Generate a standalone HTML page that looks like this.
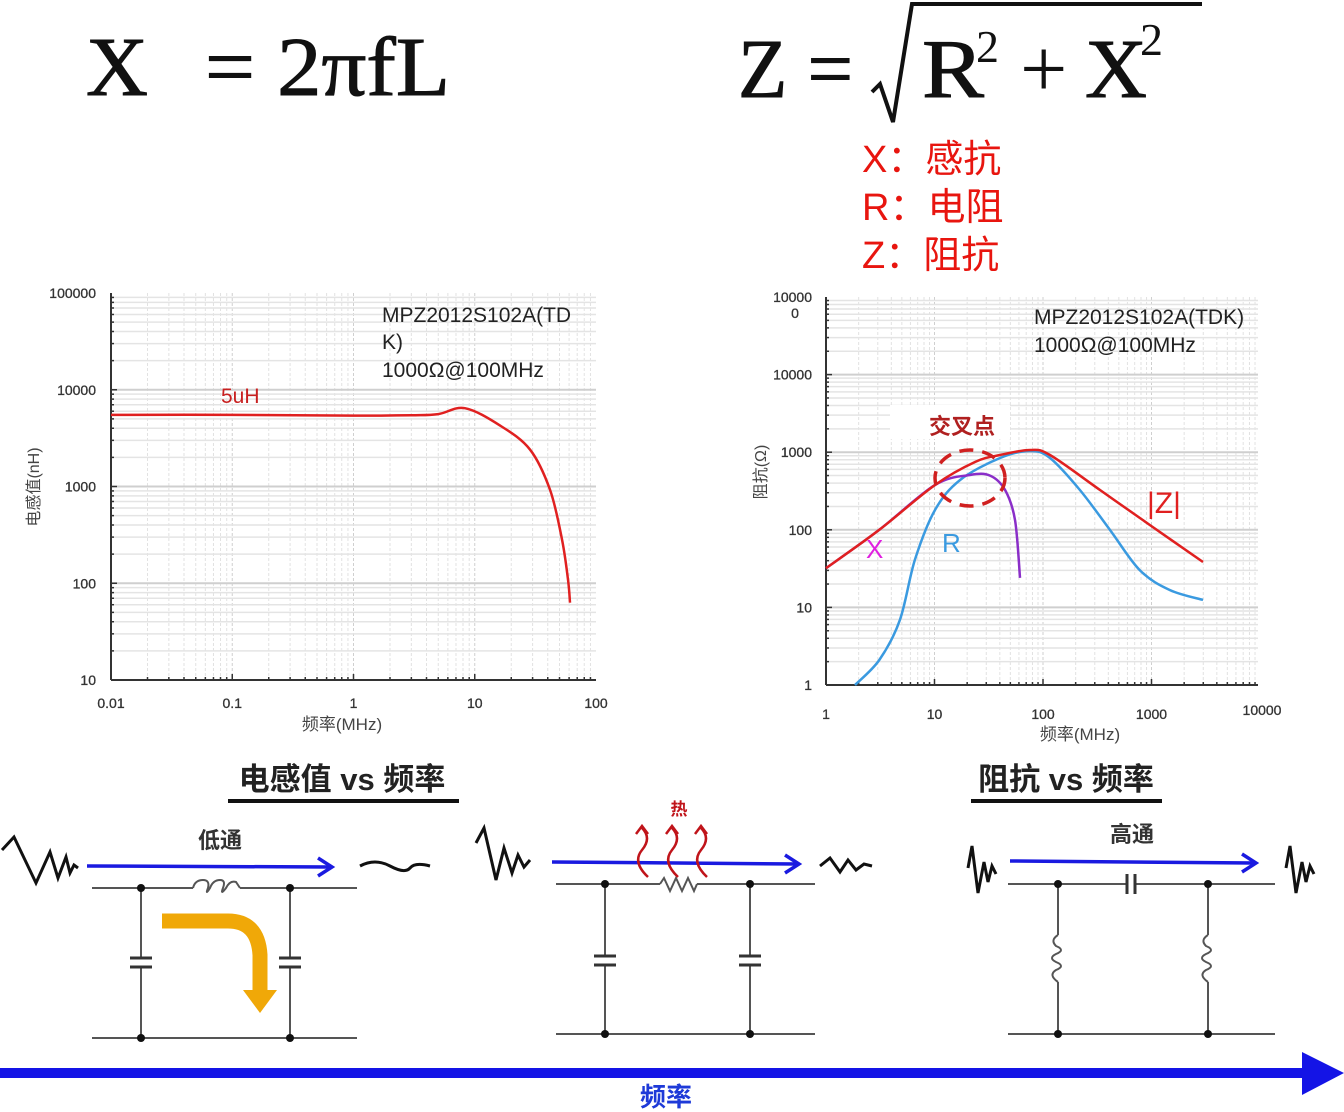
<!DOCTYPE html>
<html><head><meta charset="utf-8">
<style>
html,body{margin:0;padding:0;background:#fff;}
svg{display:block;}
text{font-family:"Liberation Sans","Noto Sans CJK SC",sans-serif;}
.serif{font-family:"Liberation Serif","Noto Serif CJK SC",serif;}
</style></head>
<body>
<svg id="root" width="1344" height="1112" viewBox="0 0 1344 1112" xmlns="http://www.w3.org/2000/svg">
  <g>
    <text class="serif" x="86" y="95" font-size="84" textLength="62" lengthAdjust="spacingAndGlyphs" fill="#111" stroke="#111" stroke-width="1">X</text>
    <text class="serif" x="205" y="95" font-size="84" textLength="245" lengthAdjust="spacingAndGlyphs" fill="#111" stroke="#111" stroke-width="1">= 2πfL</text>
  </g>
  <g>
    <text class="serif" x="738" y="97" font-size="84" textLength="115" lengthAdjust="spacingAndGlyphs" fill="#111" stroke="#111" stroke-width="1">Z =</text>
    <path d="M872 92 L880 84 L893 122 L912 4 L1202 4" stroke="#111" stroke-width="4" fill="none"/>
    <text class="serif" x="922" y="97" font-size="84" textLength="62" lengthAdjust="spacingAndGlyphs" fill="#111" stroke="#111" stroke-width="1">R</text>
    <text class="serif" x="976" y="62" font-size="46" fill="#111">2</text>
    <text class="serif" x="1020" y="97" font-size="84" fill="#111">+</text>
    <text class="serif" x="1085" y="97" font-size="84" textLength="62" lengthAdjust="spacingAndGlyphs" fill="#111" stroke="#111" stroke-width="1">X</text>
    <text class="serif" x="1140" y="55" font-size="46" fill="#111">2</text>
  </g>
  <g fill="#e8150f" font-size="38">
    <text x="862" y="172">X：感抗</text>
    <text x="862" y="220">R：电阻</text>
    <text x="862" y="268">Z：阻抗</text>
  </g>

  <g id="chartL"></g>
  <g id="chartR"></g>

  <g>
    <text x="342" y="790" text-anchor="middle" font-size="31" font-weight="bold" fill="#222">电感值 vs 频率</text>
    <rect x="228" y="799" width="231" height="4" fill="#111"/>
  </g>
  <g>
    <text x="1066" y="790" text-anchor="middle" font-size="31" font-weight="bold" fill="#222">阻抗 vs 频率</text>
    <rect x="971" y="799" width="191" height="4" fill="#111"/>
  </g>

  <g stroke="#555" stroke-width="2" fill="none">
    <path d="M2 850 L14 837 L36 883 L50 852 L58 878 L66 857 L70 873 L74 865 L78 868" stroke="#111" stroke-width="3"/>
    <path d="M360 866 Q375 858 390 866 T410 868 T430 866" stroke="#111" stroke-width="3"/>
    <line x1="92" y1="888" x2="193" y2="888"/><line x1="240" y1="888" x2="357" y2="888"/>
    <path d="M193 888 Q195 880 203 880 Q210 880 208 888 Q205 896 210 888 Q213 880 220 880 Q226 880 223 888 Q220 896 226 888 Q230 880 236 882 L240 888"/>
    <line x1="92" y1="1038" x2="357" y2="1038"/>
    <line x1="141" y1="888" x2="141" y2="958"/><line x1="141" y1="967" x2="141" y2="1038"/>
    <line x1="130" y1="958" x2="152" y2="958" stroke-width="3" stroke="#333"/><line x1="130" y1="967" x2="152" y2="967" stroke-width="3" stroke="#333"/>
    <line x1="290" y1="888" x2="290" y2="958"/><line x1="290" y1="967" x2="290" y2="1038"/>
    <line x1="279" y1="958" x2="301" y2="958" stroke-width="3" stroke="#333"/><line x1="279" y1="967" x2="301" y2="967" stroke-width="3" stroke="#333"/>
    <g fill="#111" stroke="none"><circle cx="141" cy="888" r="4"/><circle cx="290" cy="888" r="4"/><circle cx="141" cy="1038" r="4"/><circle cx="290" cy="1038" r="4"/></g>
    <line x1="87" y1="866" x2="330" y2="867" stroke="#1a1ae0" stroke-width="3.5"/>
    <path d="M318 858 L332 867 L318 876" stroke="#1a1ae0" stroke-width="3.5"/>
    <path d="M162 921 L228 921 Q258 921 260 955 L260 992" stroke="#f0a808" stroke-width="15"/>
    <path d="M243 990 L277 990 L260 1013 Z" fill="#f0a808" stroke="none"/>
  </g>
  <text x="220" y="848" text-anchor="middle" font-size="22" font-weight="bold" fill="#333">低通</text>

  <g stroke="#555" stroke-width="2" fill="none">
    <path d="M476 843 L484 828 L496 880 L504 848 L512 873 L518 855 L524 867 L530 860" stroke="#111" stroke-width="3"/>
    <path d="M820 866 L830 858 L840 872 L848 860 L856 870 L864 864 L872 866" stroke="#111" stroke-width="3"/>
    <line x1="556" y1="884" x2="660" y2="884"/><line x1="697" y1="884" x2="815" y2="884"/>
    <path d="M660 884 L664 878 L670 891 L676 878 L682 891 L688 878 L694 891 L697 884"/>
    <line x1="556" y1="1034" x2="815" y2="1034"/>
    <line x1="605" y1="884" x2="605" y2="956"/><line x1="605" y1="965" x2="605" y2="1034"/>
    <line x1="594" y1="956" x2="616" y2="956" stroke-width="3" stroke="#333"/><line x1="594" y1="965" x2="616" y2="965" stroke-width="3" stroke="#333"/>
    <line x1="750" y1="884" x2="750" y2="956"/><line x1="750" y1="965" x2="750" y2="1034"/>
    <line x1="739" y1="956" x2="761" y2="956" stroke-width="3" stroke="#333"/><line x1="739" y1="965" x2="761" y2="965" stroke-width="3" stroke="#333"/>
    <g fill="#111" stroke="none"><circle cx="605" cy="884" r="4"/><circle cx="750" cy="884" r="4"/><circle cx="605" cy="1034" r="4"/><circle cx="750" cy="1034" r="4"/></g>
    <line x1="552" y1="862" x2="797" y2="864" stroke="#1a1ae0" stroke-width="3.5"/>
    <path d="M785 855 L799 864 L785 873" stroke="#1a1ae0" stroke-width="3.5"/>
    <g stroke="#c0141a" stroke-width="2.5">
      <path d="M648 877 Q632 862 642 850 Q652 838 642 828 M636 834 L642 826 L648 834"/>
      <path d="M678 877 Q662 862 672 850 Q682 838 672 828 M666 834 L672 826 L678 834"/>
      <path d="M707 877 Q691 862 701 850 Q711 838 701 828 M695 834 L701 826 L707 834"/>
    </g>
  </g>
  <text x="679" y="815" text-anchor="middle" font-size="17" font-weight="bold" fill="#c0141a">热</text>

  <g stroke="#555" stroke-width="2" fill="none">
    <path d="M968 868 L972 846 L978 893 L984 862 L988 882 L992 866 L996 874" stroke="#111" stroke-width="3"/>
    <path d="M1286 868 L1290 846 L1296 893 L1302 862 L1306 882 L1310 866 L1314 874" stroke="#111" stroke-width="3"/>
    <line x1="1008" y1="884" x2="1127" y2="884"/><line x1="1135" y1="884" x2="1275" y2="884"/>
    <line x1="1127" y1="874" x2="1127" y2="894" stroke-width="3" stroke="#333"/><line x1="1135" y1="874" x2="1135" y2="894" stroke-width="3" stroke="#333"/>
    <line x1="1008" y1="1034" x2="1275" y2="1034"/>
    <line x1="1058" y1="884" x2="1058" y2="935"/><line x1="1058" y1="982" x2="1058" y2="1034"/>
    <path d="M1058 935 Q1050 940 1056 946 Q1066 950 1056 954 Q1048 958 1056 962 Q1066 966 1056 970 Q1048 975 1058 982"/>
    <line x1="1208" y1="884" x2="1208" y2="935"/><line x1="1208" y1="982" x2="1208" y2="1034"/>
    <path d="M1208 935 Q1200 940 1206 946 Q1216 950 1206 954 Q1198 958 1206 962 Q1216 966 1206 970 Q1198 975 1208 982"/>
    <g fill="#111" stroke="none"><circle cx="1058" cy="884" r="4"/><circle cx="1208" cy="884" r="4"/><circle cx="1058" cy="1034" r="4"/><circle cx="1208" cy="1034" r="4"/></g>
    <line x1="1010" y1="861" x2="1254" y2="863" stroke="#1a1ae0" stroke-width="3.5"/>
    <path d="M1242 854 L1256 863 L1242 872" stroke="#1a1ae0" stroke-width="3.5"/>
  </g>
  <text x="1132" y="842" text-anchor="middle" font-size="22" font-weight="bold" fill="#333">高通</text>

  <g>
    <rect x="0" y="1068" width="1305" height="10" fill="#1414e6"/>
    <path d="M1302 1052 L1344 1073 L1302 1095 Z" fill="#1414e6"/>
    <text x="666" y="1106" text-anchor="middle" font-size="26" font-weight="bold" fill="#1e3ad8">频率</text>
  </g>
</svg>
<script>
// ---- left chart data (inductance vs frequency) ----
const lFreq = [0.01, 0.1, 1, 3, 5, 8.3, 16, 28.6, 41.8, 52.5, 58.9, 61];
const lInd  = [5500, 5500, 5400, 5450, 5600, 6450, 4300, 2400, 920, 280, 107, 63];
const lXTicks = [0.01, 0.1, 1, 10, 100];
const lXTickLabels = ["0.01", "0.1", "1", "10", "100"];
const lYTicks = [10, 100, 1000, 10000, 100000];
const lYTickLabels = ["10", "100", "1000", "10000", "100000"];
// ---- right chart data (impedance vs frequency) ----
const rFreqX = [1, 3.1, 10.1, 21.2, 32.5, 44.7, 55.2, 61.4];
const rValX  = [32, 100, 378, 508, 500, 326, 134, 24];
const rFreqZ = [1, 3.1, 10.1, 23.6, 40.2, 75.9, 116, 335, 968, 2985];
const rValZ  = [32, 100, 378, 748, 920, 1067, 920, 326, 115, 38.5];
const rFreqR = [1.85, 3.1, 4.8, 6.6, 10.1, 17.2, 40.2, 75.9, 116, 219, 415, 783, 1480, 2985];
const rValR  = [1, 2.1, 6.9, 41, 180, 438, 842, 1035, 842, 326, 99, 30, 16.7, 12.5];
const rXTicks = [1, 10, 100, 1000, 10000];
const rXTickLabels = ["1", "10", "100", "1000", "10000"];
const rYTicks = [1, 10, 100, 1000, 10000, 100000];
const rYTickLabels = ["1", "10", "100", "1000", "10000", "10000\n0"];

const NS = "http://www.w3.org/2000/svg";
function mk(tag, attrs, parent){const e=document.createElementNS(NS,tag);for(const k in attrs)e.setAttribute(k,attrs[k]);parent.appendChild(e);return e;}
function logScale(d0,d1,r0,r1){const a=Math.log10(d0),b=Math.log10(d1);return v=>r0+(Math.log10(v)-a)/(b-a)*(r1-r0);}

function grid(g,x,y,xd,yd,x0,x1,y0,y1){
  for(let e=Math.log10(xd[0]);e<Math.log10(xd[1]);e++){for(let m=1;m<10;m++){const px=x(m*Math.pow(10,e));
    mk('line',{x1:px,y1:y0,x2:px,y2:y1,stroke:m==1?'#cfcfcf':'#e2e2e2','stroke-width':1,'stroke-dasharray':'3,2'},g);
    mk('line',{x1:px,y1:y1,x2:px,y2:y1-(m==1?6:3),stroke:'#333','stroke-width':1.5},g);}}
  for(let e=Math.log10(yd[0]);e<Math.log10(yd[1]);e++){for(let m=1;m<10;m++){const py=y(m*Math.pow(10,e));
    mk('line',{x1:x0,y1:py,x2:x1,y2:py,stroke:m==1?'#cfcfcf':'#e4e4e4','stroke-width':m==1?2:1.5},g);
    mk('line',{x1:x0,y1:py,x2:x0+(m==1?6:3),y2:py,stroke:'#333','stroke-width':1.5},g);}}
  mk('line',{x1:x0,y1:y0,x2:x0,y2:y1,stroke:'#333','stroke-width':2},g);
  mk('line',{x1:x0,y1:y1,x2:x1,y2:y1,stroke:'#333','stroke-width':2},g);
}
// smooth Catmull-Rom path through data points
function pathFrom(xs,ys,x,y){
  const P=xs.map((f,i)=>[x(f),y(ys[i])]);
  let d='M'+P[0][0].toFixed(1)+' '+P[0][1].toFixed(1);
  for(let i=0;i<P.length-1;i++){
    const p0=P[Math.max(0,i-1)],p1=P[i],p2=P[i+1],p3=P[Math.min(P.length-1,i+2)];
    const c1=[p1[0]+(p2[0]-p0[0])/6,p1[1]+(p2[1]-p0[1])/6];
    const c2=[p2[0]-(p3[0]-p1[0])/6,p2[1]-(p3[1]-p1[1])/6];
    d+=' C'+c1.map(v=>v.toFixed(1)).join(' ')+' '+c2.map(v=>v.toFixed(1)).join(' ')+' '+p2.map(v=>v.toFixed(1)).join(' ');
  }
  return d;
}

(function(){
  const g=document.getElementById('chartL');
  const x=logScale(0.01,100,111,596), y=logScale(10,100000,680,293);
  grid(g,x,y,[0.01,100],[10,100000],111,596,293,680);
  lXTicks.forEach((t,i)=>{const e=mk('text',{x:x(t),y:708,'text-anchor':'middle','font-size':14,fill:'#333',stroke:'#333','stroke-width':0.3},g);e.textContent=lXTickLabels[i];
    
    });
  lYTicks.forEach((t,i)=>{const e=mk('text',{x:96,y:y(t)+5,'text-anchor':'end','font-size':14,fill:'#333',stroke:'#333','stroke-width':0.3},g);e.textContent=lYTickLabels[i];
    
    });
  const p=mk('path',{d:pathFrom(lFreq,lInd,x,y),stroke:'#e02020','stroke-width':2.5,fill:'none','stroke-linejoin':'round'},g);
  
  
  const t1=mk('text',{x:342,y:730,'text-anchor':'middle','font-size':17,fill:'#444'},g);t1.textContent='频率(MHz)';
  
  
  const t2=mk('text',{x:0,y:0,'text-anchor':'middle','font-size':16,fill:'#444',transform:'translate(39,487) rotate(-90)'},g);t2.textContent='电感值(nH)';
  
  
  [['MPZ2012S102A(TD',322],['K)',349],['1000Ω@100MHz',377]].forEach(a=>{const e=mk('text',{x:382,y:a[1],'font-size':21,fill:'#222'},g);e.textContent=a[0];
    
    });
  const l=mk('text',{x:221,y:403,'font-size':21,fill:'#c82020'},g);l.textContent='5uH';
  
  
})();

(function(){
  const g=document.getElementById('chartR');
  const x=logScale(1,10000,826,1260), y=logScale(1,100000,685,297);
  grid(g,x,y,[1,10000],[1,100000],826,1258,297,685);
  rXTicks.forEach((t,i)=>{const e=mk('text',{x:x(t)+(i==4?2:0),y:i==4?715:719,'text-anchor':'middle','font-size':14,fill:'#333',stroke:'#333','stroke-width':0.3},g);e.textContent=rXTickLabels[i];
    
    });
  rYTicks.forEach((t,i)=>{const parts=rYTickLabels[i].split('\n');parts.forEach((s,j)=>{
    const e=mk('text',{x:j?795:812,y:y(t)+5+j*16,'text-anchor':j?'middle':'end','font-size':14,fill:'#333',stroke:'#333','stroke-width':0.3},g);e.textContent=s;
    
    });});
  const series=[[rFreqR,rValR,'#3a9ae0','r-line'],[rFreqX,rValX,'#8a2ec8','x-line'],[rFreqZ,rValZ,'#e02020','z-line']];
  series.forEach(s=>{const p=mk('path',{d:pathFrom(s[0],s[1],x,y),stroke:s[2],'stroke-width':2.5,fill:'none','stroke-linejoin':'round'},g);
    
    });
  const el=mk('ellipse',{cx:970,cy:478,rx:35,ry:28,stroke:'#d02020','stroke-width':3.5,fill:'none','stroke-dasharray':'14,9'},g);
  
  
  mk('rect',{x:890,y:405,width:120,height:34,fill:'#fff'},g);
  const c=mk('text',{x:962,y:434,'text-anchor':'middle','font-size':22,'font-weight':'bold',fill:'#b02020'},g);c.textContent='交叉点';
  
  
  [['|Z|',1147,513,30,'#e02020','z-label'],['X',866,558,26,'#e020e0','x-label'],['R',942,552,26,'#3a9ae0','r-label']].forEach(a=>{
    const e=mk('text',{x:a[1],y:a[2],'font-size':a[3],fill:a[4]},g);e.textContent=a[0];
    
    });
  const t1=mk('text',{x:1080,y:740,'text-anchor':'middle','font-size':17,fill:'#444'},g);t1.textContent='频率(MHz)';
  
  
  const t2=mk('text',{x:0,y:0,'text-anchor':'middle','font-size':16,fill:'#444',transform:'translate(766,472) rotate(-90)'},g);t2.textContent='阻抗(Ω)';
  
  
  [['MPZ2012S102A(TDK)',324],['1000Ω@100MHz',352]].forEach(a=>{const e=mk('text',{x:1034,y:a[1],'font-size':21,fill:'#222'},g);e.textContent=a[0];
    
    });
})();
</script>
</body></html>
